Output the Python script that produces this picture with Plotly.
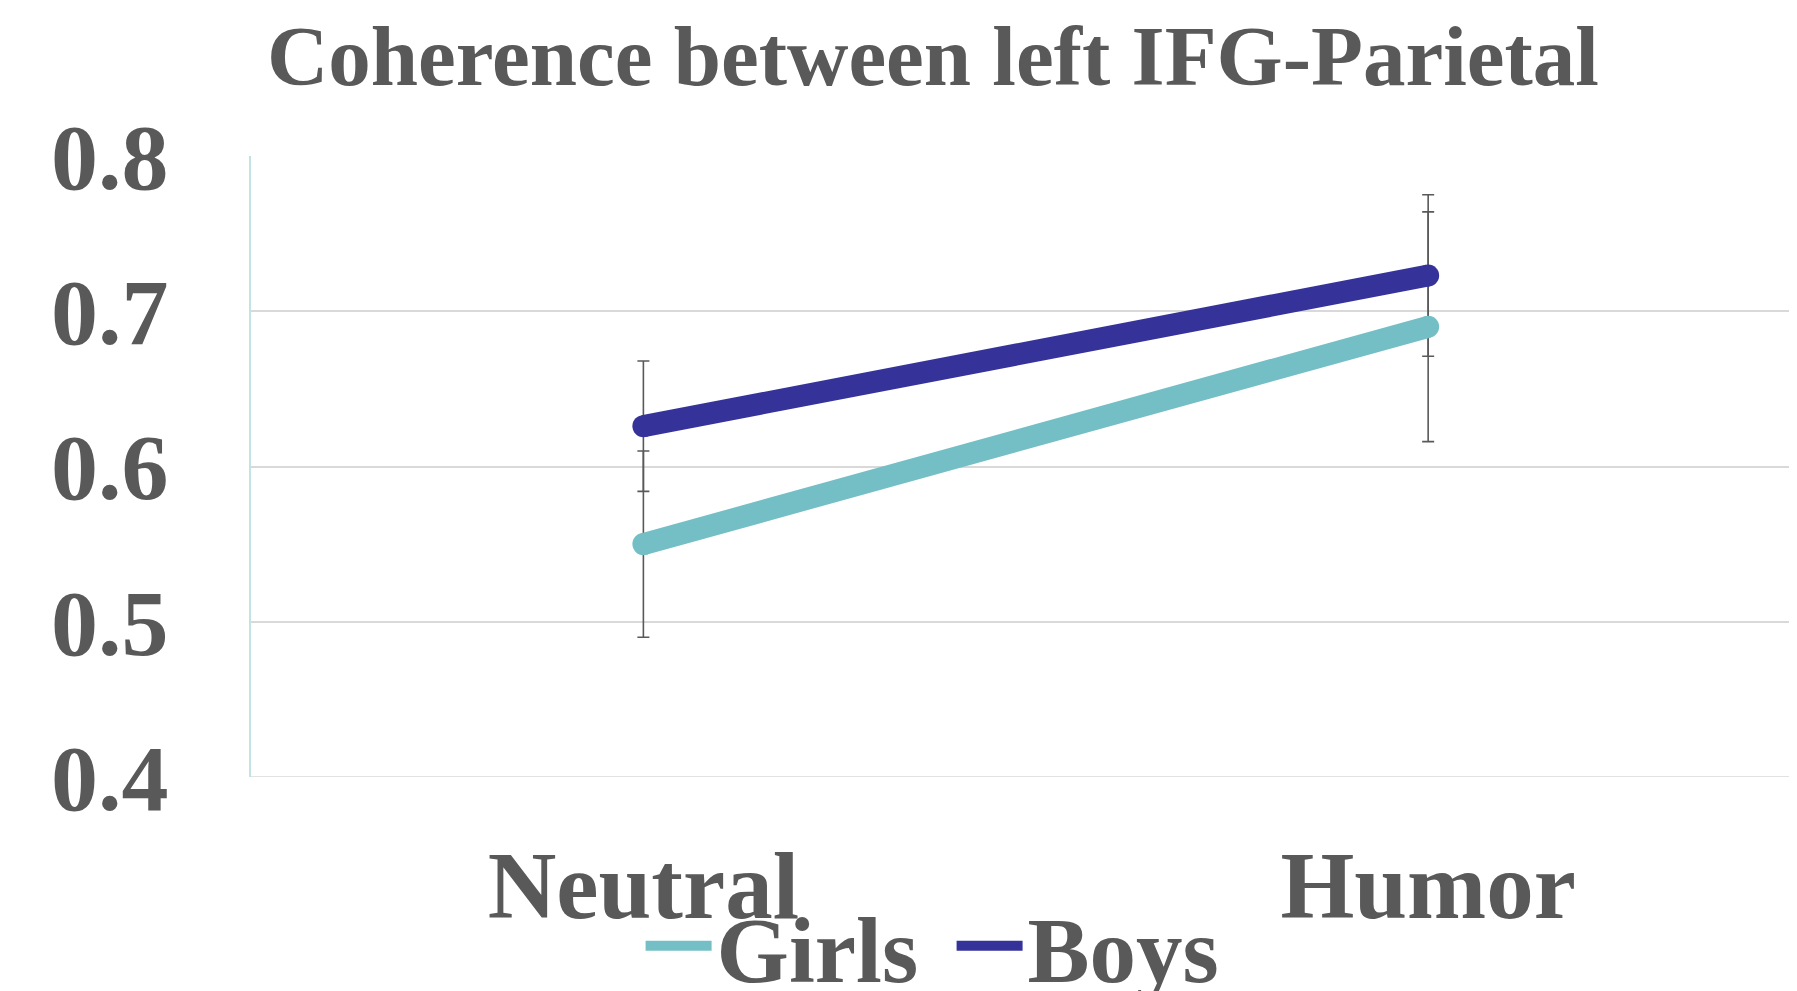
import plotly.graph_objects as go

categories = ["Neutral", "Humor"]
girls = [0.550, 0.690]
girls_err = [0.060, 0.074]
boys = [0.626, 0.723]
boys_err = [0.042, 0.052]
y_ticks = [0.4, 0.5, 0.6, 0.7, 0.8]
y_tick_labels = ["0.4", "0.5", "0.6", "0.7", "0.8"]

TXT = "#595959"
FONT = "Liberation Serif, Times New Roman, serif"
x_pos = list(range(len(categories)))
series = [("Girls", girls, girls_err, "#74BFC5"), ("Boys", boys, boys_err, "#35339A")]

fig = go.Figure()
# error bars (drawn underneath the lines)
for name, vals, errs, col in series:
    fig.add_trace(go.Scatter(
        x=x_pos, y=vals, mode="markers", marker=dict(opacity=0, size=1),
        showlegend=False, hoverinfo="skip",
        error_y=dict(type="data", array=errs, visible=True,
                     color=TXT, thickness=1.6, width=6),
    ))
# lines
for name, vals, errs, col in series:
    fig.add_trace(go.Scatter(
        x=x_pos, y=vals, name=f"<b>{name}</b>", mode="lines",
        line=dict(color=col, width=22),
    ))
# round end caps
for name, vals, errs, col in series:
    fig.add_trace(go.Scatter(
        x=x_pos, y=vals, mode="markers", showlegend=False, hoverinfo="skip",
        marker=dict(color=col, size=22),
    ))

fig.update_layout(
    width=1789, height=983,
    paper_bgcolor="white", plot_bgcolor="white",
    margin=dict(l=243, r=0, t=148, b=214, autoexpand=False),
    title=dict(text="<b>Coherence between left IFG-Parietal</b>",
               font=dict(family=FONT, size=85, color=TXT),
               x=0.517, xanchor="center", y=0.952, yanchor="middle"),
    font=dict(family=FONT, color=TXT),
    showlegend=True,
    legend=dict(orientation="h", x=0.252, xanchor="left", y=-0.272, yanchor="middle",
                font=dict(family=FONT, size=93, color=TXT),
                bgcolor="rgba(0,0,0,0)", itemwidth=66, tracegroupgap=0,
                entrywidth=230, entrywidthmode="pixels"),
)
fig.update_xaxes(
    range=[-0.5, 1.47], tickvals=x_pos, ticktext=[f"<b>{c}</b>" for c in categories],
    tickfont=dict(family=FONT, size=95, color=TXT),
    showgrid=False, zeroline=False, showline=False, ticks="",
    ticklabelstandoff=45,
)
fig.update_yaxes(
    range=[0.4, 0.8], tickvals=y_ticks, ticktext=[f"<b>{t}</b>" for t in y_tick_labels],
    tickfont=dict(family=FONT, size=94, color=TXT),
    showgrid=True, gridcolor="#D9D9D9", gridwidth=1.5,
    zeroline=False, showline=True, linecolor="#C3E2E5", linewidth=1.5,
    ticks="", ticklabelstandoff=62,
)
fig.add_hline(y=0.4, line=dict(color="#D9D9D9", width=1.5), layer="below")

fig.write_html("out.html")
